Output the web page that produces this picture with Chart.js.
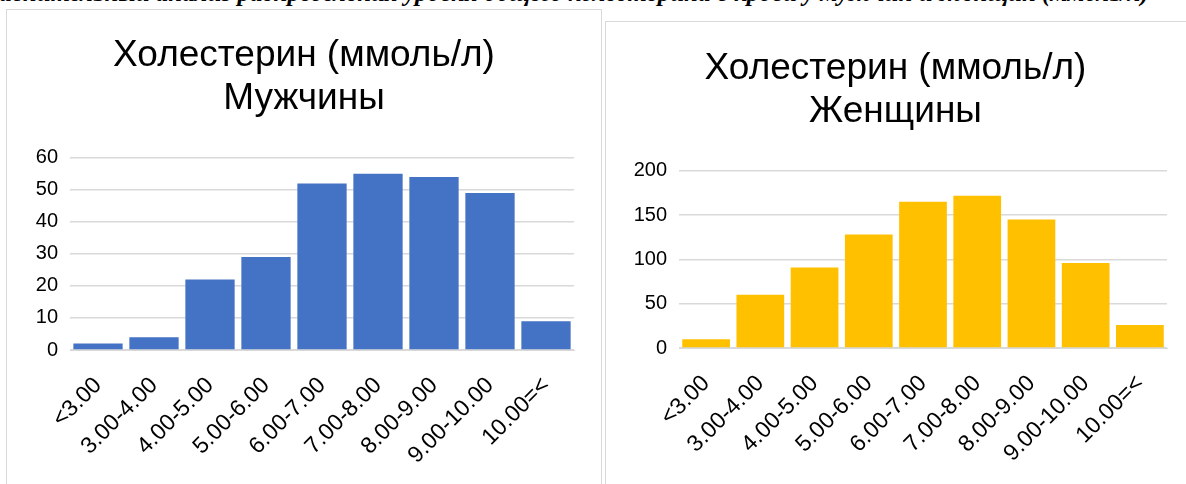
<!DOCTYPE html>
<html>
<head>
<meta charset="utf-8">
<script src="https://cdn.jsdelivr.net/npm/chart.js@4.4.1/dist/chart.umd.min.js"></script>
<style>
    html, body { margin: 0; padding: 0; background: #fff; }
    body { width: 1186px; height: 484px; position: relative; overflow: hidden; }
    .doc-title {
        position: absolute; left: -30px; top: -20px; white-space: nowrap;
        font: italic bold 25px 'Liberation Serif', serif; line-height: 25px; color: #000;
    }
    .panel { position: absolute; background: #fff; border: 1px solid #d9d9d9; }
    #panelMen { left: 6px; top: 9px; width: 594px; height: 490px; }
    #panelWomen { left: 605px; top: 21px; width: 600px; height: 490px; }
    canvas { position: absolute; }
</style>
</head>
<body>
<div class="doc-title">Сравнительный анализ распределения уровня общего холестерина в крови у мужчин и женщин (ммоль/л)</div>
<div class="panel" id="panelMen"><canvas id="menChart" width="594" height="474"></canvas></div>
<div class="panel" id="panelWomen"><canvas id="womenChart" width="579" height="462"></canvas></div>
<script>
const RANGES = ['<3.00', '3.00-4.00', '4.00-5.00', '5.00-6.00', '6.00-7.00', '7.00-8.00', '8.00-9.00', '9.00-10.00', '10.00=<'];
const MEN_COUNTS = [2, 4, 22, 29, 52, 55, 54, 49, 9];
const WOMEN_COUNTS = [10, 60, 91, 128, 165, 172, 145, 96, 26];
const MEN_TITLE = ['Холестерин (ммоль/л)', 'Мужчины'];
const WOMEN_TITLE = ['Холестерин (ммоль/л)', 'Женщины'];

const FONT = "'Liberation Sans', Arial, sans-serif";

// side padding is equal on both sides so the title stays centred on the panel
function makeOptions(title, titlePad, yMax, yStep, yAxisWidth, padding) {
    return {
        responsive: false,
        animation: false,
        layout: { padding: padding },
        plugins: {
            legend: { display: false },
            tooltip: { enabled: false },
            title: {
                display: true,
                text: title,
                color: '#000',
                font: { family: FONT, size: 37, weight: 'normal', lineHeight: 1.16 },
                padding: titlePad
            }
        },
        scales: {
            x: {
                grid: { display: false },
                border: { color: '#d9d9d9', width: 1 },
                ticks: {
                    color: '#000',
                    font: { family: FONT, size: 23 },
                    maxRotation: 45,
                    minRotation: 45,
                    padding: 14
                },
                afterFit: (scale) => { scale.height = 120; }
            },
            y: {
                min: 0,
                max: yMax,
                grid: { color: '#d9d9d9', lineWidth: 1.5, drawTicks: false },
                border: { display: false },
                ticks: {
                    stepSize: yStep,
                    color: '#000',
                    font: { family: FONT, size: 20 },
                    padding: 12
                },
                afterFit: (scale) => { scale.width = yAxisWidth; }
            }
        }
    };
}

new Chart(document.getElementById('menChart'), {
    type: 'bar',
    data: {
        labels: RANGES,
        datasets: [{
            data: MEN_COUNTS,
            backgroundColor: '#4472C4',
            categoryPercentage: 0.88,
            barPercentage: 1
        }]
    },
    options: makeOptions(MEN_TITLE, { top: 24, bottom: 38 }, 60, 10, 36, { left: 27, right: 27, top: 0, bottom: 14 })
});

new Chart(document.getElementById('womenChart'), {
    type: 'bar',
    data: {
        labels: RANGES,
        datasets: [{
            data: WOMEN_COUNTS,
            backgroundColor: '#FFC000',
            categoryPercentage: 0.88,
            barPercentage: 1
        }]
    },
    options: makeOptions(WOMEN_TITLE, { top: 25, bottom: 38 }, 200, 50, 55, { left: 18, right: 18, top: 0, bottom: 16 })
});
</script>
</body>
</html>
